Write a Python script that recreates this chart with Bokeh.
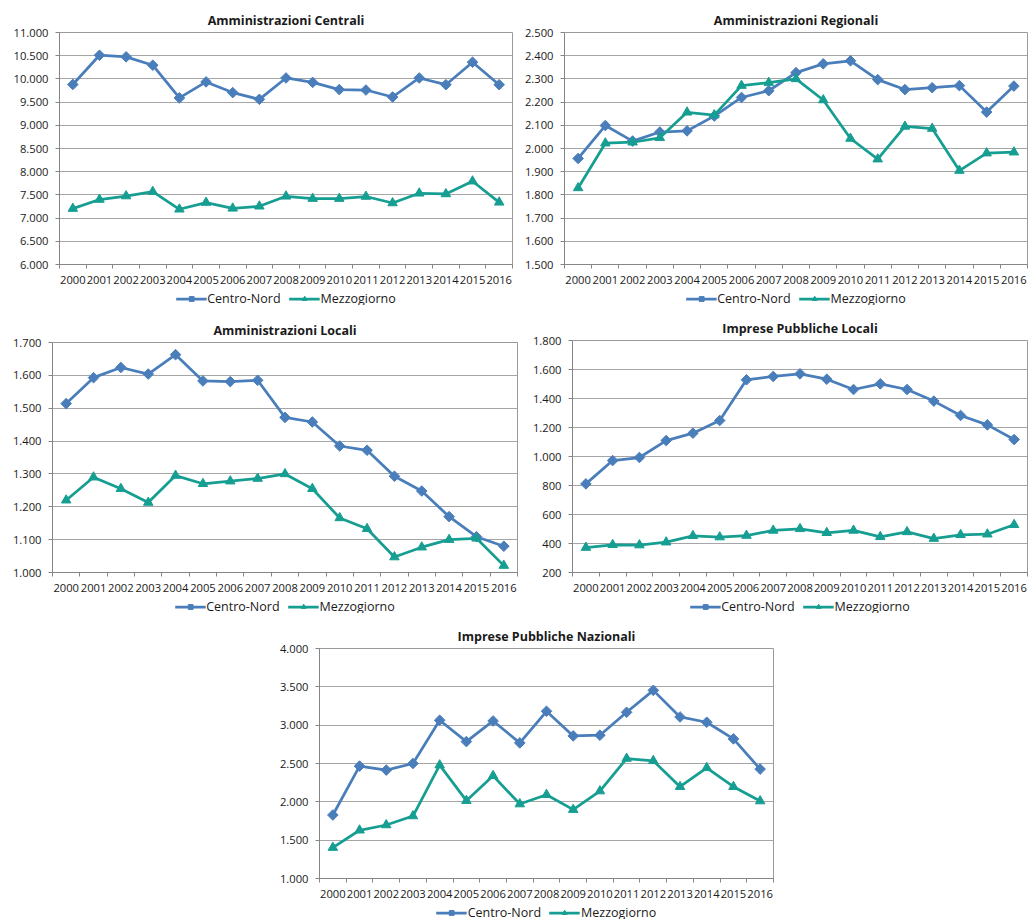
import numpy as np
from bokeh.plotting import figure
from bokeh.layouts import column, row, Spacer
from bokeh.models import (Range1d, FixedTicker, Legend, LegendItem)
from bokeh.embed import file_html
from bokeh.resources import INLINE

years = [str(y) for y in range(2000, 2017)]
series_names = ["Centro-Nord", "Mezzogiorno"]

titles = ["Amministrazioni Centrali", "Amministrazioni Regionali", "Amministrazioni Locali",
          "Imprese Pubbliche Locali", "Imprese Pubbliche Nazionali"]

ac_cn = [9880, 10510, 10475, 10295, 9590, 9935, 9705, 9560, 10020, 9925, 9770, 9760, 9610, 10020, 9875, 10360, 9875]
ac_mz = [7205, 7400, 7475, 7570, 7190, 7335, 7210, 7255, 7470, 7420, 7420, 7465, 7325, 7535, 7520, 7795, 7340]

ar_cn = [1957, 2099, 2032, 2071, 2076, 2140, 2220, 2249, 2327, 2365, 2378, 2297, 2254, 2262, 2271, 2157, 2269]
ar_mz = [1830, 2023, 2027, 2046, 2156, 2144, 2271, 2284, 2300, 2209, 2043, 1954, 2095, 2086, 1905, 1980, 1984]

al_cn = [1514, 1593, 1624, 1604, 1663, 1583, 1581, 1585, 1472, 1458, 1385, 1372, 1293, 1248, 1170, 1109, 1080]
al_mz = [1220, 1290, 1255, 1213, 1295, 1270, 1278, 1286, 1300, 1255, 1166, 1133, 1047, 1077, 1100, 1104, 1021]

ipl_cn = [811, 972, 993, 1110, 1161, 1248, 1529, 1552, 1570, 1533, 1462, 1501, 1462, 1382, 1283, 1218, 1117]
ipl_mz = [372, 391, 389, 409, 453, 444, 455, 490, 501, 474, 490, 446, 480, 434, 460, 464, 529]

ipn_cn = [1828, 2466, 2414, 2500, 3064, 2786, 3055, 2769, 3181, 2860, 2869, 3168, 3454, 3107, 3038, 2821, 2427]
ipn_mz = [1403, 1629, 1698, 1815, 2479, 2015, 2340, 1971, 2093, 1898, 2140, 2565, 2535, 2197, 2444, 2197, 2010]

y_ranges = [(6000, 11000, 500), (1500, 2500, 100), (1000, 1700, 100), (200, 1800, 200), (1000, 4000, 500)]

BLUE = "#4A7EBB"
TEAL = "#169E92"
FONT = "Open Sans"
TXT = "#1a1a1a"
LW = 2.75
SQ = 7.5
TRI = 9.5
AXIS_H = 27
LEG_H = 14


def it_num(v):
    return "{:,}".format(int(v)).replace(",", ".")


def make_chart(title, cn, mz, yr, width, top, frame_h, left, right):
    n = len(years)
    xs = [i + 0.5 for i in range(n)]
    p = figure(width=width, height=top + frame_h + AXIS_H, output_backend="svg",
               toolbar_location=None,
               x_range=Range1d(0, n), y_range=Range1d(yr[0], yr[1]),
               min_border_left=left, min_border_right=right,
               min_border_top=top, min_border_bottom=AXIS_H)
    p.title.text = title
    p.title.align = "center"
    p.title.text_font = FONT
    p.title.text_font_style = "bold"
    p.title.text_font_size = "12.5px"
    p.title.text_color = TXT
    p.title.standoff = 8
    p.background_fill_color = None
    p.border_fill_color = None
    p.outline_line_color = "#9a9a9a"
    p.outline_line_width = 1

    xa = p.xaxis[0]
    xa.ticker = FixedTicker(ticks=xs, minor_ticks=list(range(n + 1)))
    xa.major_label_overrides = {x: y for x, y in zip(xs, years)}
    xa.major_tick_out = 0
    xa.major_tick_in = 0
    xa.minor_tick_out = 4
    xa.minor_tick_in = 0
    xa.minor_tick_line_color = "#868686"
    xa.axis_line_color = "#868686"
    xa.major_label_standoff = 7
    xa.major_label_text_font = FONT
    xa.major_label_text_font_size = "11.2px"
    xa.major_label_text_color = TXT
    p.xgrid.visible = False

    ya = p.yaxis[0]
    yt = list(range(yr[0], yr[1] + 1, yr[2]))
    ya.ticker = FixedTicker(ticks=yt, minor_ticks=[])
    ya.major_label_overrides = {v: it_num(v) for v in yt}
    ya.major_tick_out = 4
    ya.major_tick_in = 0
    ya.minor_tick_out = 0
    ya.minor_tick_in = 0
    ya.major_tick_line_color = "#868686"
    ya.axis_line_color = "#868686"
    ya.major_label_standoff = 7
    ya.major_label_text_font = FONT
    ya.major_label_text_font_size = "11.2px"
    ya.major_label_text_color = TXT
    p.ygrid.grid_line_color = "#a6a6a6"
    p.ygrid.grid_line_width = 1

    p.line(xs, cn, line_color=BLUE, line_width=LW)
    p.scatter(xs, cn, marker="square", angle=np.pi / 4, size=SQ,
              fill_color=BLUE, line_color=BLUE)
    p.line(xs, mz, line_color=TEAL, line_width=LW)
    p.scatter(xs, mz, marker="triangle", size=TRI,
              fill_color=TEAL, line_color=TEAL)
    return p


def make_legend(width, left):
    q = figure(width=width, height=LEG_H, output_backend="svg", toolbar_location=None,
               x_range=Range1d(0, 1), y_range=Range1d(0, 1),
               x_axis_type=None, y_axis_type=None,
               min_border_left=left, min_border_right=0, min_border_top=0, min_border_bottom=0)
    q.outline_line_color = None
    q.background_fill_color = None
    q.border_fill_color = None
    q.xgrid.visible = False
    q.ygrid.visible = False
    # legend-only renderers: their single sample lies outside the visible range
    off = [-5.0]
    l1 = q.line(off, off, line_color=BLUE, line_width=LW)
    m1 = q.scatter(off, off, marker="square", angle=np.pi / 4, size=SQ + 1,
                   fill_color=BLUE, line_color=BLUE)
    l2 = q.line(off, off, line_color=TEAL, line_width=LW)
    m2 = q.scatter(off, off, marker="triangle", size=TRI + 1,
                   fill_color=TEAL, line_color=TEAL)
    leg = Legend(items=[LegendItem(label=series_names[0], renderers=[l1, m1]),
                        LegendItem(label=series_names[1], renderers=[l2, m2])],
                 orientation="horizontal", location="center")
    leg.border_line_color = None
    leg.background_fill_alpha = 0
    leg.margin = 0
    leg.padding = 0
    leg.spacing = 8
    leg.glyph_width = 31
    leg.glyph_height = 12
    leg.label_standoff = 1
    leg.label_height = 14
    leg.label_text_font = FONT
    leg.label_text_font_size = "12.5px"
    leg.label_text_color = TXT
    leg.label_text_baseline = "middle"
    q.add_layout(leg, "center")
    return q


def panel(idx, cn, mz, width, top, frame_h, left, right, leg_left):
    return column(make_chart(titles[idx], cn, mz, y_ranges[idx], width, top, frame_h, left, right),
                  make_legend(width, leg_left))


c1 = panel(0, ac_cn, ac_mz, 513, 32, 232, 59, 1, 21)
c2 = panel(1, ar_cn, ar_mz, 516, 32, 232, 51, 2, 19)
c3 = panel(2, al_cn, al_mz, 522, 37, 230, 52, 5, 21)
c4 = panel(3, ipl_cn, ipl_mz, 507, 35, 232, 50, 2, 23)
c5 = panel(4, ipn_cn, ipn_mz, 522, 35, 230, 51, 17, 5)

layout = column(row(c1, c2), row(c3, c4), row(Spacer(width=268, height=10), c5))

open("out.html", "w").write(file_html(layout, INLINE))
